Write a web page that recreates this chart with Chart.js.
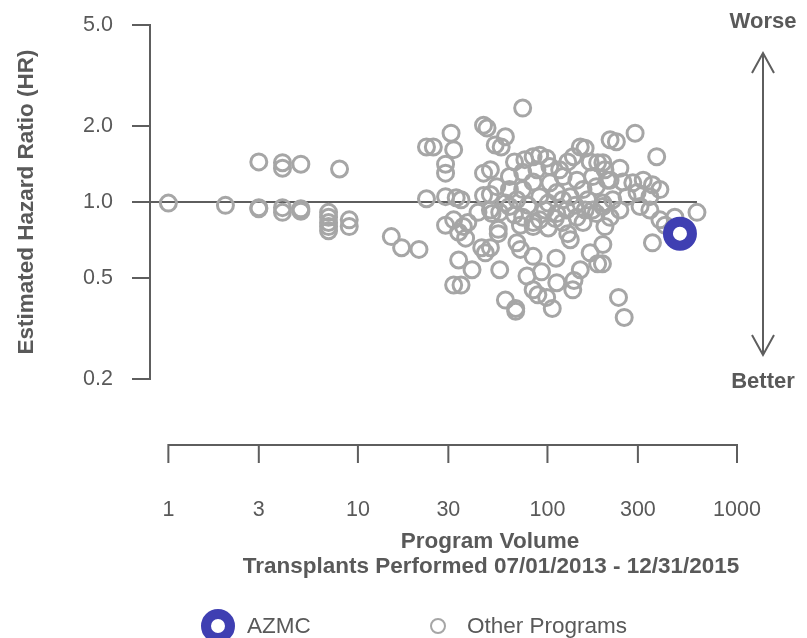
<!DOCTYPE html>
<html>
<head>
<meta charset="utf-8">
<script src="https://cdn.jsdelivr.net/npm/chart.js@4/dist/chart.umd.min.js"></script>
<style>
  html, body { margin: 0; padding: 0; background: #fff; }
  #wrap { width: 807px; height: 638px; }
</style>
</head>
<body>
<div id="wrap"><canvas id="hr-chart"></canvas></div>
<script>
// Tick labels
const xTicks = [1, 3, 10, 30, 100, 300, 1000];
const yTicks = [0.2, 0.5, 1, 2, 5];

// This program
const azmcVolume = [500];
const azmcHR     = [0.75];

// Other programs — volume and estimated hazard ratio
const otherVolume = [
  1, 2, 3, 3, 3, 4, 4, 4, 4, 5, 5, 5, 8, 7, 7, 7, 7, 7, 9, 9, 15, 17, 21,
  23, 25, 31, 32, 29, 29, 46, 48, 53, 46, 23, 29, 33, 35, 46, 50, 29, 32, 36, 38, 34, 37, 45, 47, 34, 40, 32, 35, 43, 50, 55,
  74, 60, 57, 149, 158, 214, 290, 231, 377,
  56, 60, 68, 68, 78, 84, 89, 93, 99, 106, 111, 112, 136, 138, 132, 128, 168, 184, 149, 69, 72, 84, 55, 50, 84, 120, 196, 201, 195, 237, 254, 358,
  67, 76, 84, 91, 99, 103, 74, 88, 116, 128, 137, 168, 184, 173, 143, 121, 103, 84, 63, 54, 63, 74, 91, 112, 132, 154, 181, 207, 201, 50,
  196, 241, 214, 250, 282, 320, 358, 392, 347, 297, 263, 221, 196, 241, 214, 308, 347, 392, 615, 470, 418,
  51, 63, 74, 84, 91, 112, 126, 143, 154, 181, 196,
  60, 69, 79, 101, 120, 140, 163, 173, 56, 67, 97, 110, 158, 72, 101
];
const otherHR = [
  0.99, 0.97, 1.44, 0.95, 0.94, 1.43, 1.36, 0.95, 0.91, 1.41, 0.94, 0.92, 1.35, 0.91, 0.87, 0.83, 0.80, 0.77, 0.85, 0.80, 0.73, 0.66, 0.65,
  1.65, 1.65, 1.87, 1.61, 1.41, 1.30, 2.01, 1.96, 1.68, 1.30, 1.03, 1.05, 1.04, 1.02, 1.06, 1.07, 0.81, 0.85, 0.80, 0.83, 0.76, 0.72, 0.66, 0.63, 0.59, 0.54, 0.47, 0.47, 0.91, 0.93, 0.78,
  2.35, 1.81, 1.65, 1.65, 1.63, 1.76, 1.87, 1.73, 1.51,
  0.54, 0.41, 0.38, 0.37, 0.51, 0.45, 0.43, 0.53, 0.42, 0.38, 0.60, 0.48, 0.45, 0.49, 0.71, 0.75, 0.63, 0.57, 0.54, 0.69, 0.65, 0.61, 0.75, 0.66, 0.83, 0.83, 0.68, 0.80, 0.57, 0.42, 0.35, 0.69,
  1.44, 1.47, 1.51, 1.53, 1.49, 1.38, 1.31, 1.34, 1.34, 1.44, 1.51, 1.44, 1.43, 1.26, 1.22, 1.26, 1.19, 1.20, 1.26, 1.15, 1.12, 1.12, 1.05, 1.09, 1.05, 1.12, 1.15, 1.22, 1.34, 1.34,
  1.43, 1.36, 1.22, 1.20, 1.19, 1.22, 1.17, 1.12, 1.05, 1.09, 1.05, 1.02, 0.99, 0.93, 0.87, 0.96, 0.93, 0.85, 0.91, 0.87, 0.81,
  0.90, 0.96, 0.87, 0.80, 0.85, 0.90, 0.93, 0.87, 0.83, 0.90, 0.96,
  0.99, 1.02, 0.97, 0.99, 1.02, 0.97, 1.02, 0.93, 0.91, 0.89, 0.93, 0.86, 0.93, 0.81, 0.79
];

const FONT  = "'Liberation Sans', Arial, sans-serif";
const AXIS  = '#5e5e5e';
const TEXT  = '#595959';
const GREY  = '#a6a6a6';
const BLUE  = '#3f3fb2';
const X_MIN = 0.8;   // y axis sits a little left of volume 1

// Detached x axis, axis titles, legend and the worse/better arrow
const extras = {
  id: 'extras',
  afterDraw (chart) {
    const { ctx, chartArea: a, scales: { x } } = chart;
    ctx.save();

    // x axis, drawn below the plot
    const axisY = a.bottom + 66;
    const xa = x.getPixelForValue(xTicks[0]);
    const xb = x.getPixelForValue(xTicks[xTicks.length - 1]);
    ctx.strokeStyle = AXIS;
    ctx.lineWidth = 2;
    ctx.beginPath();
    ctx.moveTo(xa, axisY + 18);
    ctx.lineTo(xa, axisY);
    ctx.lineTo(xb, axisY);
    ctx.lineTo(xb, axisY + 18);
    xTicks.slice(1, -1).forEach(v => {
      const px = x.getPixelForValue(v);
      ctx.moveTo(px, axisY);
      ctx.lineTo(px, axisY + 18);
    });
    ctx.stroke();

    ctx.fillStyle = TEXT;
    ctx.textAlign = 'center';
    ctx.textBaseline = 'middle';
    ctx.font = `21.5px ${FONT}`;
    xTicks.forEach(v => ctx.fillText(String(v), x.getPixelForValue(v), axisY + 65));

    ctx.font = `bold 22.5px ${FONT}`;
    ctx.fillText('Program Volume', 490, axisY + 97);
    ctx.fillText('Transplants Performed 07/01/2013 - 12/31/2015', 491, axisY + 122);

    // worse / better arrow
    const ax = 763;
    const top = a.top + 28, bot = a.bottom - 24;
    ctx.beginPath();
    ctx.moveTo(ax, top); ctx.lineTo(ax, bot);
    ctx.moveTo(ax - 11, top + 20); ctx.lineTo(ax, top); ctx.lineTo(ax + 11, top + 20);
    ctx.moveTo(ax - 11, bot - 20); ctx.lineTo(ax, bot); ctx.lineTo(ax + 11, bot - 20);
    ctx.stroke();
    ctx.font = `bold 22px ${FONT}`;
    ctx.fillText('Worse', ax, a.top - 3);
    ctx.fillText('Better', ax, a.bottom + 3);

    // legend
    const ly = 626;
    ctx.beginPath();
    ctx.arc(218, ly, 12, 0, Math.PI * 2);
    ctx.fillStyle = '#fff';
    ctx.fill();
    ctx.lineWidth = 10;
    ctx.strokeStyle = BLUE;
    ctx.stroke();
    ctx.beginPath();
    ctx.arc(438, ly, 7, 0, Math.PI * 2);
    ctx.lineWidth = 2;
    ctx.strokeStyle = GREY;
    ctx.stroke();
    ctx.fillStyle = TEXT;
    ctx.textAlign = 'left';
    ctx.font = `22.5px ${FONT}`;
    ctx.fillText('AZMC', 247, ly + 1);
    ctx.fillText('Other Programs', 467, ly + 1);

    ctx.restore();
  }
};

const others = otherVolume.map((v, i) => ({ x: v, y: otherHR[i] }));
const azmc   = azmcVolume.map((v, i) => ({ x: v, y: azmcHR[i] }));
const refLine = [{ x: X_MIN, y: 1 }, { x: Math.max(...otherVolume), y: 1 }];

new Chart(document.getElementById('hr-chart'), {
  type: 'scatter',
  data: {
    datasets: [
      {
        type: 'line',
        label: 'reference',
        data: refLine,
        borderColor: AXIS,
        borderWidth: 2,
        pointRadius: 0,
        order: 3
      },
      {
        label: 'Other Programs',
        data: others,
        pointRadius: 8,
        pointBorderWidth: 3,
        borderColor: GREY,
        backgroundColor: 'rgba(0,0,0,0)',
        clip: false,
        order: 2
      },
      {
        label: 'AZMC',
        data: azmc,
        pointRadius: 12,
        pointBorderWidth: 10,
        borderColor: BLUE,
        backgroundColor: '#fff',
        clip: false,
        order: 1
      }
    ]
  },
  options: {
    responsive: true,
    maintainAspectRatio: false,
    animation: false,
    layout: { padding: { top: 25, right: 70, bottom: 259, left: 0 } },
    plugins: { legend: { display: false }, tooltip: { enabled: false } },
    scales: {
      x: {
        type: 'logarithmic',
        display: false,
        min: X_MIN,
        max: 1000
      },
      y: {
        type: 'logarithmic',
        min: 0.2,
        max: 5,
        afterBuildTicks: s => { s.ticks = yTicks.map(v => ({ value: v })); },
        afterFit: s => { s.width = 150; s.paddingTop = 0; s.paddingBottom = 0; },
        ticks: {
          callback: v => Number(v).toFixed(1),
          font: { size: 21.5, family: FONT },
          color: TEXT,
          padding: 19
        },
        grid: { drawOnChartArea: false, tickLength: 18, color: AXIS, lineWidth: 2 },
        border: { color: AXIS, width: 2 },
        title: {
          display: true,
          text: 'Estimated Hazard Ratio (HR)',
          font: { size: 22.5, weight: 'bold', family: FONT },
          color: TEXT,
          padding: { top: 13, bottom: 0 }
        }
      }
    }
  },
  plugins: [extras]
});
</script>
</body>
</html>
